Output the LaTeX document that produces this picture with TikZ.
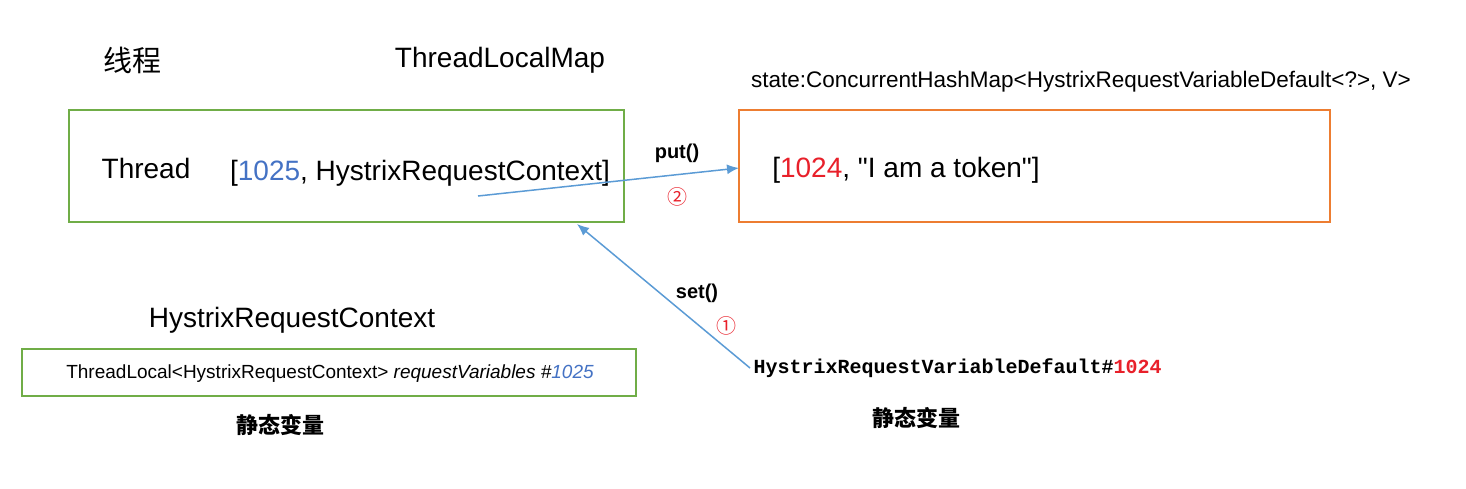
\documentclass[tikz,border=0pt]{standalone}
\usepackage{fontspec}
\setmainfont{Liberation Sans}
\setmonofont{Liberation Mono}
\newfontfamily\cjk{Noto Sans CJK SC}
\newfontfamily\plainsans{Liberation Sans}[Ligatures=TeXOff]
\usepackage{xcolor}
\usetikzlibrary{arrows.meta,positioning}

\definecolor{boxgreen}{HTML}{70AD47}
\definecolor{boxorange}{HTML}{ED7D31}
\definecolor{numblue}{HTML}{4472C4}
\definecolor{arrblue}{HTML}{5B9BD5}
\definecolor{numred}{HTML}{E8202A}

\begin{document}
\begin{tikzpicture}[
  x=1pt, y=-1pt,
  gbox/.style={draw=boxgreen, line width=2pt},
  obox/.style={draw=boxorange, line width=2pt},
  big/.style={font=\fontsize{28}{31}\selectfont},
  mid/.style={font=\fontsize{22.5}{26}\selectfont},
  small/.style={font=\fontsize{19}{22}\selectfont},
  title/.style={font=\cjk\bfseries\fontsize{22}{26}\selectfont},
  call/.style={font=\bfseries\fontsize{20}{24}\selectfont},
  circ/.style={text=numred, font=\cjk\fontsize{20}{24}\selectfont},
  arr/.style={-{Latex[length=12pt,width=10pt]}, draw=arrblue, line width=1.5pt}
]
\useasboundingbox (0,0) rectangle (1466,488);

% boxes
\draw[gbox] (69,110) rectangle (624,222);
\draw[obox] (739,110) rectangle (1330,222);
\draw[gbox] (22,349) rectangle (636,396);
\coordinate (mapbox) at (739,168);

% headings
\node[font=\cjk\fontsize{29}{32}\selectfont] (thread) at (132,60) {线程};
\node[big] (tlmap) at (500,60) {ThreadLocalMap};
\node[mid] (state) at (1081,82) {state:ConcurrentHashMap<HystrixRequestVariableDefault<?>, V>};

% box contents
\node[big] (threadname) at (146,168) {Thread};
\node[big] (entry) at (420,173) {[\textcolor{numblue}{1025}, HystrixRequestContext]};
\node[big] (token) at (906,170) {\plainsans [\textcolor{numred}{1024}, "I am a token"]};

\node[big] (ctxtitle) at (292,320) {HystrixRequestContext};
\node[small] (tlocal) at (330,374) {ThreadLocal<HystrixRequestContext> \textit{requestVariables \#\textcolor{numblue}{1025}}};
\node[font=\ttfamily\bfseries\fontsize{20}{24}\selectfont, anchor=west] (var) at (750,368) {HystrixRequestVariableDefault\#\textcolor{numred}{1024}};

\node[title] (static1) at (280,425) {静态变量};
\node[title] (static2) at (916,418) {静态变量};

% calls
\node[call] (put) at (677,153) {put()};
\node[circ] (two) at (677,197) {②};
\node[call] (set) at (697,293) {set()};
\node[circ] (one) at (726,326) {①};

\coordinate (putstart) at (478,196);
\coordinate (setend) at (577,224);
\draw[arr] (putstart) -- (mapbox);
\draw[arr] (var.west) -- (setend);
\end{tikzpicture}
\end{document}
